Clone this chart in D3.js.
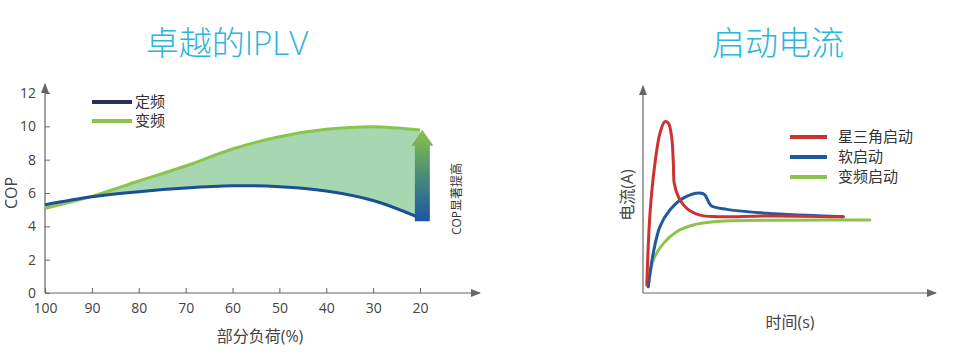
<!DOCTYPE html>
<html>
<head>
<meta charset="utf-8">
<script src="https://cdn.jsdelivr.net/npm/d3@7"></script>
<style>
  body { margin: 0; background: #fff; }
  svg text { font-family: "Open Sans", "Noto Sans CJK SC", sans-serif; }
</style>
</head>
<body>
<div class="vis"></div>
<script>
// left chart data
const loads = [100, 90, 80, 70, 60, 50, 40, 30, 20];
const fixedCop = [5.3, 5.78, 6.08, 6.3, 6.43, 6.38, 6.12, 5.55, 4.5];
const inverterCop = [5.08, 5.8, 6.72, 7.62, 8.64, 9.38, 9.82, 9.98, 9.78];
const copTicks = [0, 2, 4, 6, 8, 10, 12];
const loadTicks = [100, 90, 80, 70, 60, 50, 40, 30, 20];

// right chart data (arbitrary units, 0-100)
const starDeltaT = [1.3, 2.4, 4.1, 5.8, 7.5, 8.7, 9.8, 10.4, 10.7, 12.1, 15, 19.5, 25.2, 42.4, 68.6];
const starDeltaI = [3.9, 38.9, 63.3, 77.9, 83.6, 82.8, 76.2, 63.3, 53.5, 47, 41.3, 38, 37.2, 37.6, 37.2];
const softT = [1.8, 3.5, 5.8, 9.2, 13.8, 19.5, 21.2, 22.4, 23.5, 28.7, 42.4, 68.6];
const softI = [3.1, 19.4, 32.4, 40.5, 46.3, 48.8, 47.9, 44.6, 42.4, 40.8, 38.9, 37.2];
const vfdT = [1.8, 3.5, 7, 11.5, 17.2, 24.1, 30.9, 50, 77.7];
const vfdI = [3.1, 16.1, 24.2, 29.9, 33.2, 34.8, 35.3, 35.5, 35.6];

const startLegend = ['星三角启动', '软启动', '变频启动'];
const startColors = ['#cf3030', '#1f5a9e', '#8cc34a'];

const svg = d3.select('.vis').append('svg')
    .attr('width', 954).attr('height', 352);

const defs = svg.append('defs');
defs.append('marker').attr('id', 'arr')
    .attr('viewBox', '0 0 10 10').attr('refX', 9).attr('refY', 5)
    .attr('markerWidth', 10).attr('markerHeight', 10)
    .attr('markerUnits', 'userSpaceOnUse')
    .attr('orient', 'auto')
    .append('path').attr('d', 'M0,1 L10,5 L0,9 Z').attr('fill', '#666');

const grad = defs.append('linearGradient').attr('id', 'upg')
    .attr('x1', 0).attr('y1', 0).attr('x2', 0).attr('y2', 1);
grad.append('stop').attr('offset', '0%').attr('stop-color', '#8cc34a');
grad.append('stop').attr('offset', '45%').attr('stop-color', '#4f9272');
grad.append('stop').attr('offset', '100%').attr('stop-color', '#1a55a8');

// titles
svg.append('text').attr('x', 227).attr('y', 55).attr('text-anchor', 'middle')
    .attr('font-size', 33).attr('font-weight', 300).attr('fill', '#2db4dc')
    .text('卓越的IPLV');
svg.append('text').attr('x', 778).attr('y', 55).attr('text-anchor', 'middle')
    .attr('font-size', 33).attr('font-weight', 300).attr('fill', '#2db4dc')
    .text('启动电流');

// ---------- left chart ----------
const x = d3.scaleLinear().domain([100, 20]).range([45, 420]);
const y = d3.scaleLinear().domain([0, 12]).range([293, 93]);
const left = svg.append('g');

// axes lines with arrows
left.append('line').attr('x1', 45).attr('y1', 293).attr('x2', 480).attr('y2', 293)
    .attr('stroke', '#666').attr('stroke-width', 1.2).attr('marker-end', 'url(#arr)');
left.append('line').attr('x1', 45).attr('y1', 293).attr('x2', 45).attr('y2', 84)
    .attr('stroke', '#666').attr('stroke-width', 1.2).attr('marker-end', 'url(#arr)');

const xAxis = d3.axisBottom(x).tickValues(loadTicks).tickSizeInner(-5).tickSizeOuter(0).tickPadding(10);
const gx = left.append('g').attr('transform', 'translate(0,293)').call(xAxis);
gx.select('.domain').remove();
gx.selectAll('line').attr('stroke', '#666');
gx.selectAll('text').attr('font-size', 14).attr('fill', '#444')
    .attr('font-family', '"Open Sans", sans-serif');

const yAxis = d3.axisLeft(y).tickValues(copTicks).tickSizeInner(-5).tickSizeOuter(0).tickPadding(9);
const gy = left.append('g').attr('transform', 'translate(45,0)').call(yAxis);
gy.select('.domain').remove();
gy.selectAll('line').attr('stroke', '#666');
gy.selectAll('text').attr('font-size', 14).attr('fill', '#444')
    .attr('font-family', '"Open Sans", sans-serif');

const rows = loads.map((l, i) => ({l, f: fixedCop[i], v: inverterCop[i]}));
const area = d3.area().x(d => x(d.l)).y0(d => y(d.f)).y1(d => y(d.v)).curve(d3.curveCatmullRom);
left.append('path').datum(rows).attr('d', area).attr('fill', '#a7d7b1');

const lineF = d3.line().x(d => x(d.l)).y(d => y(d.f)).curve(d3.curveCatmullRom);
const lineV = d3.line().x(d => x(d.l)).y(d => y(d.v)).curve(d3.curveCatmullRom);
left.append('path').datum(rows).attr('d', lineV).attr('fill', 'none')
    .attr('stroke', '#8cc34a').attr('stroke-width', 3);
left.append('path').datum(rows).attr('d', lineF).attr('fill', 'none')
    .attr('stroke', '#1b4f94').attr('stroke-width', 3);

// improvement arrow
const arrX = x(19.5), arrTop = y(9.8), arrBot = y(4.3);
const head = 16;
left.append('path')
    .attr('d', `M${arrX - 7.5},${arrBot} L${arrX - 7.5},${arrTop + head} L${arrX - 11},${arrTop + head} L${arrX},${arrTop} L${arrX + 11},${arrTop + head} L${arrX + 7.5},${arrTop + head} L${arrX + 7.5},${arrBot} Z`)
    .attr('fill', 'url(#upg)');
left.append('text').attr('transform', `translate(461,199) rotate(-90)`)
    .attr('text-anchor', 'middle').attr('font-size', 12).attr('fill', '#333')
    .text('COP显著提高');

// legend
const leg = [['定频', '#2a2f5c'], ['变频', '#8cc34a']];
leg.forEach((d, i) => {
  const ly = 102 + i * 19;
  left.append('line').attr('x1', 92).attr('x2', 132).attr('y1', ly).attr('y2', ly)
      .attr('stroke', d[1]).attr('stroke-width', 4);
  left.append('text').attr('x', 135).attr('y', ly + 5).attr('font-size', 15)
      .attr('fill', '#333').attr('font-family', '"Noto Sans CJK SC", sans-serif').text(d[0]);
});

left.append('text').attr('transform', 'translate(17,193) rotate(-90)')
    .attr('text-anchor', 'middle').attr('font-size', 16).attr('fill', '#444').text('COP');
left.append('text').attr('x', 260).attr('y', 342).attr('text-anchor', 'middle')
    .attr('font-size', 16).attr('fill', '#444').text('部分负荷(%)');

// ---------- right chart ----------
const tx = d3.scaleLinear().domain([0, 100]).range([643, 935]);
const iy = d3.scaleLinear().domain([0, 100]).range([293, 88]);
const right = svg.append('g');
right.append('line').attr('x1', 643).attr('y1', 293).attr('x2', 936).attr('y2', 293)
    .attr('stroke', '#666').attr('stroke-width', 1.2).attr('marker-end', 'url(#arr)');
right.append('line').attr('x1', 643).attr('y1', 293).attr('x2', 643).attr('y2', 86)
    .attr('stroke', '#666').attr('stroke-width', 1.2).attr('marker-end', 'url(#arr)');

const series = [[starDeltaT, starDeltaI], [softT, softI], [vfdT, vfdI]];
const cl = d3.line().x(d => tx(d[0])).y(d => iy(d[1])).curve(d3.curveCatmullRom.alpha(0.5));
// draw green first, then blue, red on top
[2, 1, 0].forEach(k => {
  const pts = series[k][0].map((t, i) => [t, series[k][1][i]]);
  right.append('path').datum(pts).attr('d', cl).attr('fill', 'none')
      .attr('stroke', startColors[k]).attr('stroke-width', 3)
      .attr('stroke-linejoin', 'round').attr('stroke-linecap', 'round');
});

startLegend.forEach((name, i) => {
  const ly = 137 + i * 20;
  right.append('line').attr('x1', 790).attr('x2', 827).attr('y1', ly).attr('y2', ly)
      .attr('stroke', startColors[i]).attr('stroke-width', 4);
  right.append('text').attr('x', 838).attr('y', ly + 5).attr('font-size', 15)
      .attr('fill', '#333').attr('font-family', '"Noto Sans CJK SC", sans-serif').text(name);
});

right.append('text').attr('transform', 'translate(633,195) rotate(-90)')
    .attr('text-anchor', 'middle').attr('font-size', 16).attr('fill', '#444').text('电流(A)');
right.append('text').attr('x', 790).attr('y', 328).attr('text-anchor', 'middle')
    .attr('font-size', 16).attr('fill', '#444').text('时间(s)');
</script>
</body>
</html>
